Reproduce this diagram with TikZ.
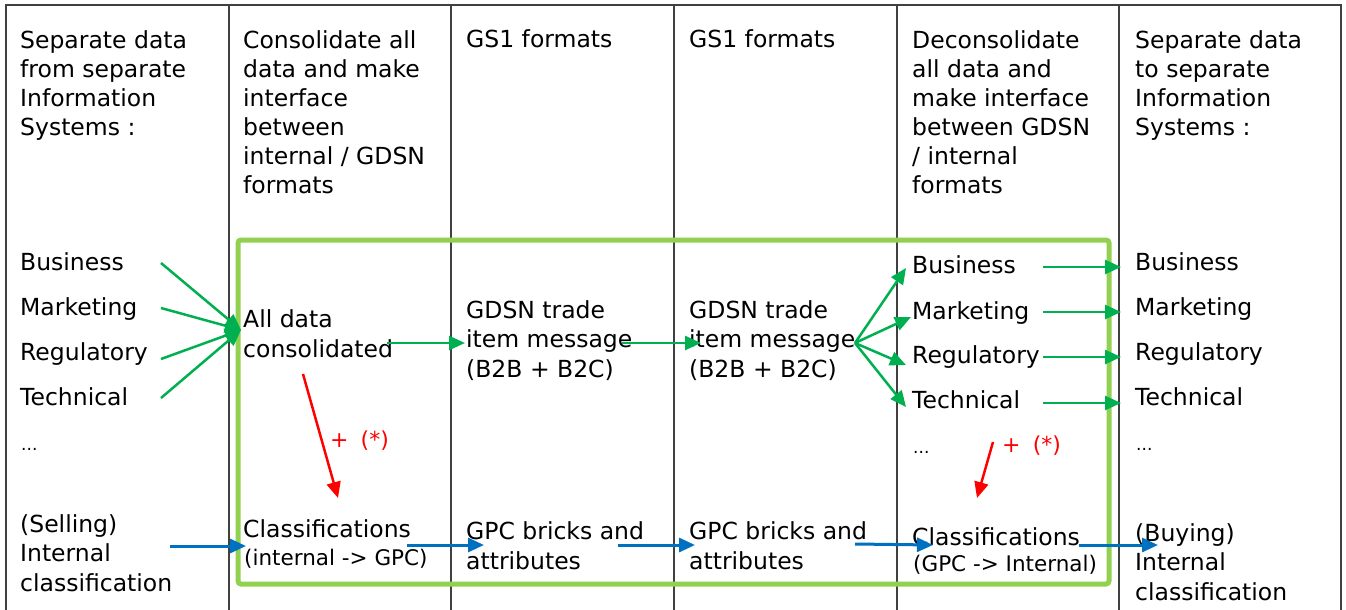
\documentclass[tikz,border=0pt]{standalone}
\usepackage{fontspec}
\setmainfont{DejaVu Sans}
\usetikzlibrary{arrows.meta}
\definecolor{framec}{HTML}{404040}
\definecolor{ggreen}{HTML}{00B050}
\definecolor{lgreen}{HTML}{92D050}
\definecolor{gblue}{HTML}{0070C0}
\definecolor{gred}{HTML}{FF0000}
\begin{document}
\begin{tikzpicture}[x=1pt,y=-1pt,
  hdr/.style={anchor=base west, inner sep=0pt, align=left, font=\fontsize{23.5}{29}\selectfont},
  txt/.style={anchor=base west, inner sep=0pt, align=left, font=\fontsize{23.5}{29.5}\selectfont},
  sml/.style={anchor=base west, inner sep=0pt, font=\fontsize{21.5}{25}\selectfont},
  dots/.style={anchor=base west, inner sep=0pt, font=\fontsize{17}{20}\selectfont},
  redlbl/.style={anchor=base west, inner sep=0pt, text=gred, font=\fontsize{22}{26}\selectfont},
  framel/.style={draw=framec, line width=2pt},
  tip/.style={-{Triangle[length=16pt,width=14pt]}},
  garr/.style={draw=ggreen, line width=2.5pt, tip},
  barr/.style={draw=gblue, line width=3pt, tip},
  rarr/.style={draw=gred, line width=2.5pt, tip}]
\useasboundingbox (0,0) rectangle (1346,610);
\fill[white] (0,0) rectangle (1346,610);
% frame
\draw[framel] (6,610) -- (6,5) -- (1341,5) -- (1341,610);
\foreach \x in {229,451,674,897,1119} \draw[framel] (\x,5) -- (\x,610);
% green box
\draw[lgreen, line width=5pt, rounded corners=3pt] (238,240) rectangle (1109,584);
% headers (anchor = baseline of last line)
\node[hdr] (h1) at (20,135) {Separate data\\from separate\\Information\\Systems :};
\node[hdr] (h2) at (243,193) {Consolidate all\\data and make\\interface\\between\\internal / GDSN\\formats};
\node[hdr] (h3) at (466,48) {GS1 formats};
\node[hdr] (h4) at (689,48) {GS1 formats};
\node[hdr] (h5) at (912,193) {Deconsolidate\\all data and\\make interface\\between GDSN\\/ internal\\formats};
\node[hdr] (h6) at (1135,135) {Separate data\\to separate\\Information\\Systems :};
% column 1
\node[txt] (a1) at (20,270) {Business};
\node[txt] (a2) at (20,315) {Marketing};
\node[txt] (a3) at (20,360) {Regulatory};
\node[txt] (a4) at (20,405) {Technical};
\node[dots] (a5) at (21,450) {...};
\node[txt] (a6) at (20,591) {(Selling)\\Internal\\classification};
% column 2
\node[txt] (c2) at (243,357) {All data\\consolidated};
\node[txt] (k2) at (243,537) {Classifications};
\node[sml] (k2s) at (244,565) {(internal -> GPC)};
% column 3, 4
\node[txt] (m3) at (466,377) {GDSN trade\\item message\\(B2B + B2C)};
\node[txt] (g3) at (466,569) {GPC bricks and\\attributes};
\node[txt] (m4) at (689,377) {GDSN trade\\item message\\(B2B + B2C)};
\node[txt] (g4) at (689,569) {GPC bricks and\\attributes};
% column 5
\node[txt] (e1) at (912,273) {Business};
\node[txt] (e2) at (912,319) {Marketing};
\node[txt] (e3) at (912,363) {Regulatory};
\node[txt] (e4) at (912,408) {Technical};
\node[dots] (e5) at (913,453) {...};
\node[txt] (k5) at (912,545) {Classifications};
\node[sml] (k5s) at (913,571) {(GPC -> Internal)};
% column 6
\node[txt] (f1) at (1135,270) {Business};
\node[txt] (f2) at (1135,315) {Marketing};
\node[txt] (f3) at (1135,360) {Regulatory};
\node[txt] (f4) at (1135,405) {Technical};
\node[dots] (f5) at (1136,450) {...};
\node[txt] (f6) at (1135,600) {(Buying)\\Internal\\classification};
% red labels
\node[redlbl] (r1) at (330,447) {+\hspace{0.55em}(*)};
\node[redlbl] (r2) at (1002,452) {+\hspace{0.55em}(*)};
% coordinates
\coordinate (conv) at (241,330);
\coordinate (s1) at (161,263);
\coordinate (s2) at (161,308);
\coordinate (s3) at (161,359);
\coordinate (s4) at (161,398);
\coordinate (fan) at (855,343);
% green arrows col1 -> all data
\foreach \s in {s1,s2,s3,s4} \draw[garr] (\s) -- (conv);
\draw[garr] (387,343) -- (465,343);
\draw[garr] (622,343) -- (701,343);
\draw[garr] (fan) -- (906,268);
\draw[garr] (fan) -- (911,317);
\draw[garr] (fan) -- (906,365);
\draw[garr] (fan) -- (906,407);
\foreach \y in {267,312,357,403} \draw[garr] (1043,\y) -- (1121,\y);
% red arrows
\draw[rarr] (303,374) -- (338,498);
\draw[rarr] (993,442) -- (977,498);
% blue arrows
\draw[barr] (170,546) -- (246,546);
\draw[barr] (407,545) -- (484,545);
\draw[barr] (618,545) -- (695,545);
\draw[barr] (855,544) -- (933,545);
\draw[barr] (1079,545) -- (1158,545);
\end{tikzpicture}
\end{document}
